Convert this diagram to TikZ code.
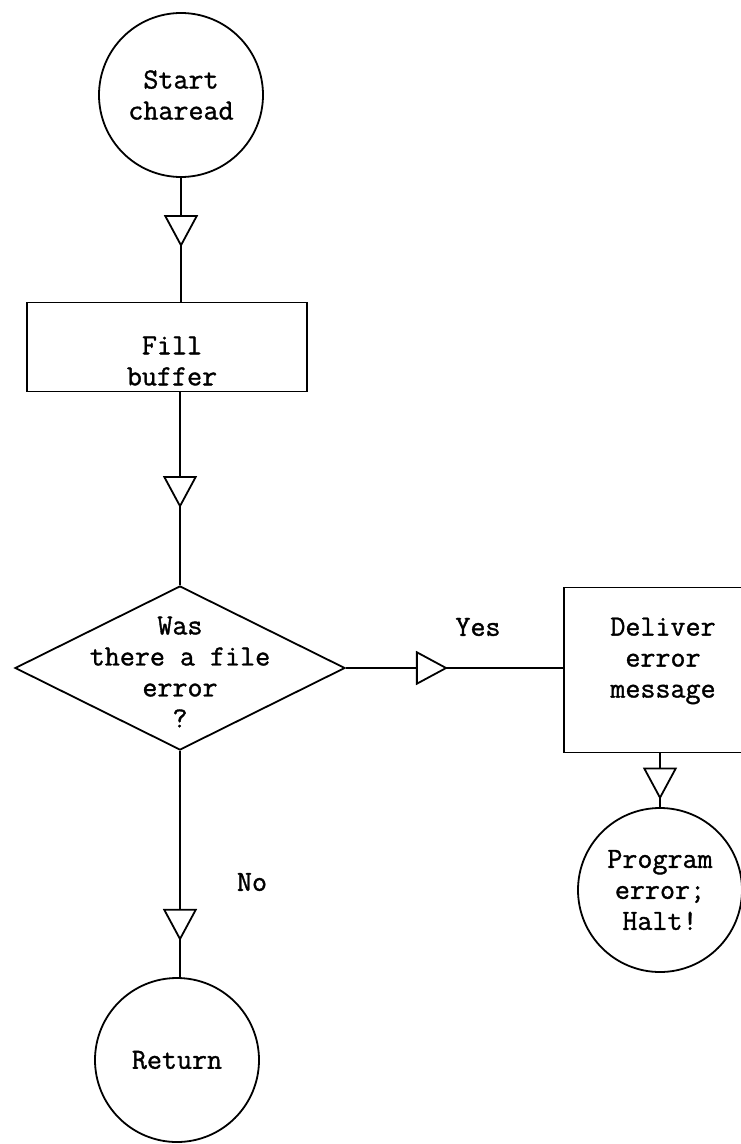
\documentclass[tikz,border=0pt]{standalone}
\usepackage{fontspec}
\newfontfamily\typer[FakeBold=1.2]{Latin Modern Mono}
\usetikzlibrary{shapes.geometric,arrows.meta,decorations.markings}

\tikzset{
  typed/.style={font=\typer\fontsize{14.6}{15.5}\selectfont, align=center},
  outline/.style={draw, line width=0.9pt},
  terminal/.style={typed, outline, circle, minimum size=82pt, inner sep=0pt},
  procbox/.style={outline, rectangle, inner sep=0pt},
  decision/.style={outline, diamond, minimum width=165pt, minimum height=82pt, inner sep=0pt},
  conn/.style={draw, line width=0.9pt, postaction={decorate},
    decoration={markings, mark=at position #1 with
      {\arrow{Triangle[fill=white, width=17pt, length=16pt, line width=0.9pt]}}}},
}

\begin{document}
\begin{tikzpicture}[x=0.5pt, y=-0.5pt]
  \useasboundingbox (0,0) rectangle (740,1144);

  % terminals
  \node[terminal] (start) at (181,95) {Start\\charead};
  \node[terminal] (prog) at (660,890) {Program\\error;\\Halt!};
  \node[terminal] (ret) at (177,1060) {Return};

  % process boxes, captions set a little below centre
  \node[procbox, minimum width=140pt, minimum height=44.5pt] (fill) at (167,347) {};
  \node[typed] (filltext) at (172,361) {Fill\\buffer};
  \node[procbox, minimum width=99pt, minimum height=82.5pt] (deliver) at (663,670) {};
  \node[typed] (delivertext) at (663,661) {Deliver\\error\\message};

  % decision
  \node[decision] (q) at (180,668) {};
  \node[typed] (qtext) at (180,672) {Was\\there a file\\error\\?};

  % branch labels
  \node[typed] (ylab) at (478,627) {Yes};
  \node[typed] (nlab) at (252,882) {No};

  % connectors
  \draw[conn=0.56] (start.south) -- (start.south |- fill.north);
  \draw[conn=0.6] (q.north |- fill.south) -- (q.north);
  \draw[conn=0.47] (q.east) -- (q.east -| deliver.west);
  \draw[conn=0.86] (prog.north |- deliver.south) -- (prog.north);
  \draw[conn=0.84] (q.south) -- (q.south |- ret.north);
\end{tikzpicture}
\end{document}
